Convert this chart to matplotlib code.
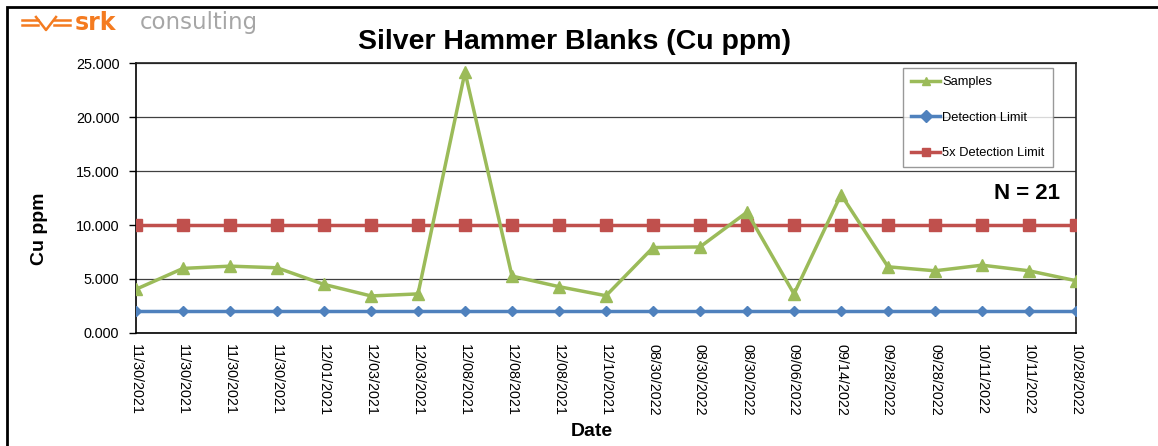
import matplotlib
matplotlib.use('Agg')
import matplotlib.pyplot as plt
from matplotlib.patches import Rectangle
from matplotlib.lines import Line2D
import numpy as np

plt.rcParams['font.family'] = ['Liberation Sans', 'DejaVu Sans']

DATES = ['11/30/2021', '11/30/2021', '11/30/2021', '11/30/2021', '12/01/2021',
         '12/03/2021', '12/03/2021', '12/08/2021', '12/08/2021', '12/08/2021',
         '12/10/2021', '08/30/2022', '08/30/2022', '08/30/2022', '09/06/2022',
         '09/14/2022', '09/28/2022', '09/28/2022', '10/11/2022', '10/11/2022',
         '10/28/2022']
SAMPLES = [4.05, 5.98, 6.19, 6.04, 4.50, 3.43, 3.62, 24.16, 5.27, 4.29,
           3.45, 7.91, 7.97, 11.19, 3.62, 12.82, 6.13, 5.76, 6.28, 5.76, 4.84]
DET_LIMIT = [2.0] * 21
DET_LIMIT_5X = [10.0] * 21

GREEN = '#9BBB59'
BLUE = '#4F81BD'
RED = '#C0504D'

W, H = 1158, 446
fig = plt.figure(figsize=(W / 100, H / 100), dpi=100)
ax = fig.add_axes([136 / W, 1 - 333 / H, (1076 - 136) / W, (333 - 63) / H])

x = np.arange(len(DATES))
ax.plot(x, DET_LIMIT, color=BLUE, lw=2.5, marker='D', ms=5.5, label='Detection Limit', zorder=3)
ax.plot(x, DET_LIMIT_5X, color=RED, lw=2.5, marker='s', ms=8, label='5x Detection Limit', zorder=3)
ax.plot(x, SAMPLES, color=GREEN, lw=2.5, marker='^', ms=8, label='Samples', zorder=4)

ax.set_xlim(0, len(DATES) - 1)
ax.set_ylim(0, 25)
ax.set_yticks(np.arange(0, 25.1, 5))
ax.set_yticklabels([f'{v:.3f}' for v in np.arange(0, 25.1, 5)], fontsize=10.4)
ax.set_xticks(x)
ax.set_xticklabels(DATES, rotation=270, fontsize=10.4, va='top', ha='center')
ax.tick_params(axis='x', length=0, pad=8)
ax.tick_params(axis='y', length=5, width=1, direction='out', pad=7)
ax.grid(axis='y', color='#404040', lw=0.9)
ax.set_axisbelow(True)
for s in ax.spines.values():
    s.set_color('black')
    s.set_linewidth(1.2)
for sp in ['top', 'right']:
    ax.spines[sp].set_color('#202020')

fig.text(39 / W, 1 - 229 / H, 'Cu ppm', fontsize=14, fontweight='bold',
         rotation=90, ha='center', va='center')
fig.text(592 / W, 1 - 431 / H, 'Date', fontsize=14, fontweight='bold',
         ha='center', va='center')

h, l = ax.get_legend_handles_labels()
order = [2, 0, 1]
leg = ax.legend([h[i] for i in order], [l[i] for i in order], loc='upper right',
                bbox_to_anchor=(1053 / W, 1 - 68 / H), bbox_transform=fig.transFigure,
                fontsize=9.3, frameon=True, fancybox=False, edgecolor='#808080',
                labelspacing=1.8, handlelength=2.2, handletextpad=0.2,
                borderpad=0.65, borderaxespad=0)
leg.get_frame().set_linewidth(1.0)
for lh in leg.legend_handles:
    lh.set_markersize(6)

ax.text(1060 / W, 1 - 194 / H, 'N = 21', transform=fig.transFigure,
        fontsize=16, fontweight='bold', ha='right', va='center')

fig.text(574 / W, 1 - 42 / H, 'Silver Hammer Blanks (Cu ppm)', fontsize=20.5,
         fontweight='bold', ha='center', va='center')

# outer frame
fig.patches.append(Rectangle((7 / W, -0.1), 1.2, 1 - 7 / H + 0.1,
                             transform=fig.transFigure, fill=False,
                             edgecolor='black', lw=2))

# srk logo
ORANGE = '#F47B20'
for yy in (20, 25):
    fig.add_artist(Line2D([22 / W, 38 / W], [1 - yy / H, 1 - yy / H], color=ORANGE, lw=1.8))
    fig.add_artist(Line2D([54 / W, 70 / W], [1 - yy / H, 1 - yy / H], color=ORANGE, lw=1.8))
fig.add_artist(Line2D([36 / W, 46 / W, 56 / W], [1 - 17 / H, 1 - 30 / H, 1 - 17 / H],
                      color=ORANGE, lw=1.8))
fig.text(75 / W, 1 - 23 / H, 'srk', fontsize=17, fontweight='bold', color=ORANGE,
         family='DejaVu Sans', ha='left', va='center')
fig.text(140 / W, 1 - 23 / H, 'consulting', fontsize=16.5, color='#A6A6A6',
         family='DejaVu Sans', ha='left', va='center')

fig.savefig('out.png', dpi=100)
